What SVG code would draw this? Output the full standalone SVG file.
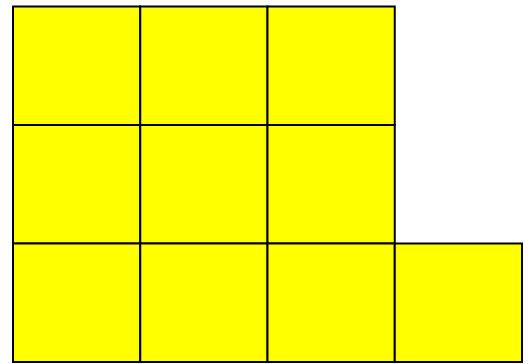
<svg xmlns="http://www.w3.org/2000/svg" width="532" height="364" viewBox="0 0 532 364">
<style>.c{fill:#ffff00;stroke:#000;stroke-width:2}</style>
<rect width="532" height="364" fill="#fff"/>
<g id="r1c1"><rect class="c" x="13" y="6.5" width="127.25" height="118.5"/></g>
<g id="r1c2"><rect class="c" x="140.25" y="6.5" width="127.25" height="118.5"/></g>
<g id="r1c3"><rect class="c" x="267.5" y="6.5" width="127.25" height="118.5"/></g>
<g id="r2c1"><rect class="c" x="13" y="125" width="127.25" height="118.5"/></g>
<g id="r2c2"><rect class="c" x="140.25" y="125" width="127.25" height="118.5"/></g>
<g id="r2c3"><rect class="c" x="267.5" y="125" width="127.25" height="118.5"/></g>
<g id="r3c1"><rect class="c" x="13" y="243.5" width="127.25" height="118.5"/></g>
<g id="r3c2"><rect class="c" x="140.25" y="243.5" width="127.25" height="118.5"/></g>
<g id="r3c3"><rect class="c" x="267.5" y="243.5" width="127.25" height="118.5"/></g>
<g id="r3c4"><rect class="c" x="394.75" y="243.5" width="127.25" height="118.5"/></g>
<g id="connectors"></g>
</svg>
